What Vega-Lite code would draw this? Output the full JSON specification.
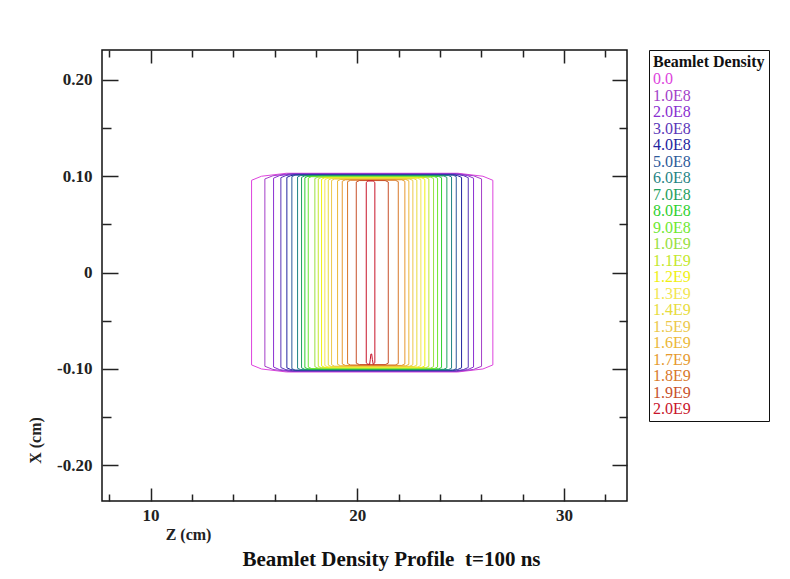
{
"$schema":"https://vega.github.io/schema/vega-lite/v6.json",
"width":525,"height":451,
"autosize":"none",
"padding":{"left":102,"top":50,"right":163,"bottom":78},
"background":"white",
"config":{"view":{"stroke":"#111","strokeWidth":1.5},"font":"Liberation Serif"},
"title":{"text":"Beamlet Density Profile\u00a0 t=100 ns","orient":"bottom","font":"Liberation Serif","fontSize":21,"fontWeight":"bold","color":"#111","dx":27,"offset":7},
"datasets":{"c":[
{"l":"0.0","o":1,"z":14.886,"x":-0.0958},{"l":"0.0","o":2,"z":14.886,"x":0.0958},{"l":"0.0","o":3,"z":15.366,"x":0.1},{"l":"0.0","o":4,"z":16.576,"x":0.1031},{"l":"0.0","o":5,"z":24.87,"x":0.1031},{"l":"0.0","o":6,"z":26.08,"x":0.1},{"l":"0.0","o":7,"z":26.56,"x":0.0958},{"l":"0.0","o":8,"z":26.56,"x":-0.0958},{"l":"0.0","o":9,"z":26.08,"x":-0.1},{"l":"0.0","o":10,"z":24.87,"x":-0.1031},{"l":"0.0","o":11,"z":16.576,"x":-0.1031},{"l":"0.0","o":12,"z":15.366,"x":-0.1},{"l":"0.0","o":13,"z":14.886,"x":-0.0958},
{"l":"1.0E8","o":1,"z":15.53,"x":-0.0972},{"l":"1.0E8","o":2,"z":15.53,"x":0.0972},{"l":"1.0E8","o":3,"z":15.92,"x":0.1005},{"l":"1.0E8","o":4,"z":16.74,"x":0.1027},{"l":"1.0E8","o":5,"z":24.803,"x":0.1027},{"l":"1.0E8","o":6,"z":25.623,"x":0.1005},{"l":"1.0E8","o":7,"z":26.013,"x":0.0972},{"l":"1.0E8","o":8,"z":26.013,"x":-0.0972},{"l":"1.0E8","o":9,"z":25.623,"x":-0.1005},{"l":"1.0E8","o":10,"z":24.803,"x":-0.1027},{"l":"1.0E8","o":11,"z":16.74,"x":-0.1027},{"l":"1.0E8","o":12,"z":15.92,"x":-0.1005},{"l":"1.0E8","o":13,"z":15.53,"x":-0.0972},
{"l":"2.0E8","o":1,"z":15.951,"x":-0.098},{"l":"2.0E8","o":2,"z":15.951,"x":0.098},{"l":"2.0E8","o":3,"z":16.241,"x":0.1007},{"l":"2.0E8","o":4,"z":16.821,"x":0.1023},{"l":"2.0E8","o":5,"z":24.756,"x":0.1023},{"l":"2.0E8","o":6,"z":25.336,"x":0.1007},{"l":"2.0E8","o":7,"z":25.626,"x":0.098},{"l":"2.0E8","o":8,"z":25.626,"x":-0.098},{"l":"2.0E8","o":9,"z":25.336,"x":-0.1007},{"l":"2.0E8","o":10,"z":24.756,"x":-0.1023},{"l":"2.0E8","o":11,"z":16.821,"x":-0.1023},{"l":"2.0E8","o":12,"z":16.241,"x":-0.1007},{"l":"2.0E8","o":13,"z":15.951,"x":-0.098},
{"l":"3.0E8","o":1,"z":16.304,"x":-0.0985},{"l":"3.0E8","o":2,"z":16.304,"x":0.0985},{"l":"3.0E8","o":3,"z":16.544,"x":0.1007},{"l":"3.0E8","o":4,"z":16.884,"x":0.1019},{"l":"3.0E8","o":5,"z":24.79,"x":0.1019},{"l":"3.0E8","o":6,"z":25.13,"x":0.1007},{"l":"3.0E8","o":7,"z":25.37,"x":0.0985},{"l":"3.0E8","o":8,"z":25.37,"x":-0.0985},{"l":"3.0E8","o":9,"z":25.13,"x":-0.1007},{"l":"3.0E8","o":10,"z":24.79,"x":-0.1019},{"l":"3.0E8","o":11,"z":16.884,"x":-0.1019},{"l":"3.0E8","o":12,"z":16.544,"x":-0.1007},{"l":"3.0E8","o":13,"z":16.304,"x":-0.0985},
{"l":"4.0E8","o":1,"z":16.594,"x":-0.0988},{"l":"4.0E8","o":2,"z":16.594,"x":0.0988},{"l":"4.0E8","o":3,"z":16.784,"x":0.1006},{"l":"4.0E8","o":4,"z":17.034,"x":0.1015},{"l":"4.0E8","o":5,"z":24.606,"x":0.1015},{"l":"4.0E8","o":6,"z":24.856,"x":0.1006},{"l":"4.0E8","o":7,"z":25.046,"x":0.0988},{"l":"4.0E8","o":8,"z":25.046,"x":-0.0988},{"l":"4.0E8","o":9,"z":24.856,"x":-0.1006},{"l":"4.0E8","o":10,"z":24.606,"x":-0.1015},{"l":"4.0E8","o":11,"z":17.034,"x":-0.1015},{"l":"4.0E8","o":12,"z":16.784,"x":-0.1006},{"l":"4.0E8","o":13,"z":16.594,"x":-0.0988},
{"l":"5.0E8","o":1,"z":16.836,"x":-0.0996},{"l":"5.0E8","o":2,"z":16.836,"x":0.0996},{"l":"5.0E8","o":3,"z":16.986,"x":0.1011},{"l":"5.0E8","o":4,"z":24.639,"x":0.1011},{"l":"5.0E8","o":5,"z":24.789,"x":0.0996},{"l":"5.0E8","o":6,"z":24.789,"x":-0.0996},{"l":"5.0E8","o":7,"z":24.639,"x":-0.1011},{"l":"5.0E8","o":8,"z":16.986,"x":-0.1011},{"l":"5.0E8","o":9,"z":16.836,"x":-0.0996},
{"l":"6.0E8","o":1,"z":17.112,"x":-0.0992},{"l":"6.0E8","o":2,"z":17.112,"x":0.0992},{"l":"6.0E8","o":3,"z":17.262,"x":0.1007},{"l":"6.0E8","o":4,"z":24.412,"x":0.1007},{"l":"6.0E8","o":5,"z":24.562,"x":0.0992},{"l":"6.0E8","o":6,"z":24.562,"x":-0.0992},{"l":"6.0E8","o":7,"z":24.412,"x":-0.1007},{"l":"6.0E8","o":8,"z":17.262,"x":-0.1007},{"l":"6.0E8","o":9,"z":17.112,"x":-0.0992},
{"l":"7.0E8","o":1,"z":17.305,"x":-0.0988},{"l":"7.0E8","o":2,"z":17.305,"x":0.0988},{"l":"7.0E8","o":3,"z":17.455,"x":0.1003},{"l":"7.0E8","o":4,"z":24.185,"x":0.1003},{"l":"7.0E8","o":5,"z":24.335,"x":0.0988},{"l":"7.0E8","o":6,"z":24.335,"x":-0.0988},{"l":"7.0E8","o":7,"z":24.185,"x":-0.1003},{"l":"7.0E8","o":8,"z":17.455,"x":-0.1003},{"l":"7.0E8","o":9,"z":17.305,"x":-0.0988},
{"l":"8.0E8","o":1,"z":17.465,"x":-0.0984},{"l":"8.0E8","o":2,"z":17.465,"x":0.0984},{"l":"8.0E8","o":3,"z":17.615,"x":0.0999},{"l":"8.0E8","o":4,"z":23.928,"x":0.0999},{"l":"8.0E8","o":5,"z":24.078,"x":0.0984},{"l":"8.0E8","o":6,"z":24.078,"x":-0.0984},{"l":"8.0E8","o":7,"z":23.928,"x":-0.0999},{"l":"8.0E8","o":8,"z":17.615,"x":-0.0999},{"l":"8.0E8","o":9,"z":17.465,"x":-0.0984},
{"l":"9.0E8","o":1,"z":17.629,"x":-0.098},{"l":"9.0E8","o":2,"z":17.629,"x":0.098},{"l":"9.0E8","o":3,"z":17.779,"x":0.0995},{"l":"9.0E8","o":4,"z":23.735,"x":0.0995},{"l":"9.0E8","o":5,"z":23.885,"x":0.098},{"l":"9.0E8","o":6,"z":23.885,"x":-0.098},{"l":"9.0E8","o":7,"z":23.735,"x":-0.0995},{"l":"9.0E8","o":8,"z":17.779,"x":-0.0995},{"l":"9.0E8","o":9,"z":17.629,"x":-0.098},
{"l":"1.0E9","o":1,"z":17.949,"x":-0.0976},{"l":"1.0E9","o":2,"z":17.949,"x":0.0976},{"l":"1.0E9","o":3,"z":18.099,"x":0.0991},{"l":"1.0E9","o":4,"z":23.541,"x":0.0991},{"l":"1.0E9","o":5,"z":23.691,"x":0.0976},{"l":"1.0E9","o":6,"z":23.691,"x":-0.0976},{"l":"1.0E9","o":7,"z":23.541,"x":-0.0991},{"l":"1.0E9","o":8,"z":18.099,"x":-0.0991},{"l":"1.0E9","o":9,"z":17.949,"x":-0.0976},
{"l":"1.1E9","o":1,"z":18.113,"x":-0.0972},{"l":"1.1E9","o":2,"z":18.113,"x":0.0972},{"l":"1.1E9","o":3,"z":18.263,"x":0.0987},{"l":"1.1E9","o":4,"z":23.314,"x":0.0987},{"l":"1.1E9","o":5,"z":23.464,"x":0.0972},{"l":"1.1E9","o":6,"z":23.464,"x":-0.0972},{"l":"1.1E9","o":7,"z":23.314,"x":-0.0987},{"l":"1.1E9","o":8,"z":18.263,"x":-0.0987},{"l":"1.1E9","o":9,"z":18.113,"x":-0.0972},
{"l":"1.2E9","o":1,"z":18.273,"x":-0.0968},{"l":"1.2E9","o":2,"z":18.273,"x":0.0968},{"l":"1.2E9","o":3,"z":18.423,"x":0.0983},{"l":"1.2E9","o":4,"z":23.12,"x":0.0983},{"l":"1.2E9","o":5,"z":23.27,"x":0.0968},{"l":"1.2E9","o":6,"z":23.27,"x":-0.0968},{"l":"1.2E9","o":7,"z":23.12,"x":-0.0983},{"l":"1.2E9","o":8,"z":18.423,"x":-0.0983},{"l":"1.2E9","o":9,"z":18.273,"x":-0.0968},
{"l":"1.3E9","o":1,"z":18.432,"x":-0.0964},{"l":"1.3E9","o":2,"z":18.432,"x":0.0964},{"l":"1.3E9","o":3,"z":18.582,"x":0.0979},{"l":"1.3E9","o":4,"z":22.927,"x":0.0979},{"l":"1.3E9","o":5,"z":23.077,"x":0.0964},{"l":"1.3E9","o":6,"z":23.077,"x":-0.0964},{"l":"1.3E9","o":7,"z":22.927,"x":-0.0979},{"l":"1.3E9","o":8,"z":18.582,"x":-0.0979},{"l":"1.3E9","o":9,"z":18.432,"x":-0.0964},
{"l":"1.4E9","o":1,"z":18.597,"x":-0.096},{"l":"1.4E9","o":2,"z":18.597,"x":0.096},{"l":"1.4E9","o":3,"z":18.747,"x":0.0975},{"l":"1.4E9","o":4,"z":22.733,"x":0.0975},{"l":"1.4E9","o":5,"z":22.883,"x":0.096},{"l":"1.4E9","o":6,"z":22.883,"x":-0.096},{"l":"1.4E9","o":7,"z":22.733,"x":-0.0975},{"l":"1.4E9","o":8,"z":18.747,"x":-0.0975},{"l":"1.4E9","o":9,"z":18.597,"x":-0.096},
{"l":"1.5E9","o":1,"z":18.757,"x":-0.0956},{"l":"1.5E9","o":2,"z":18.757,"x":0.0956},{"l":"1.5E9","o":3,"z":18.907,"x":0.0971},{"l":"1.5E9","o":4,"z":22.54,"x":0.0971},{"l":"1.5E9","o":5,"z":22.69,"x":0.0956},{"l":"1.5E9","o":6,"z":22.69,"x":-0.0956},{"l":"1.5E9","o":7,"z":22.54,"x":-0.0971},{"l":"1.5E9","o":8,"z":18.907,"x":-0.0971},{"l":"1.5E9","o":9,"z":18.757,"x":-0.0956},
{"l":"1.6E9","o":1,"z":19.047,"x":-0.0952},{"l":"1.6E9","o":2,"z":19.047,"x":0.0952},{"l":"1.6E9","o":3,"z":19.197,"x":0.0967},{"l":"1.6E9","o":4,"z":22.346,"x":0.0967},{"l":"1.6E9","o":5,"z":22.496,"x":0.0952},{"l":"1.6E9","o":6,"z":22.496,"x":-0.0952},{"l":"1.6E9","o":7,"z":22.346,"x":-0.0967},{"l":"1.6E9","o":8,"z":19.197,"x":-0.0967},{"l":"1.6E9","o":9,"z":19.047,"x":-0.0952},
{"l":"1.7E9","o":1,"z":19.274,"x":-0.0948},{"l":"1.7E9","o":2,"z":19.274,"x":0.0948},{"l":"1.7E9","o":3,"z":19.424,"x":0.0963},{"l":"1.7E9","o":4,"z":22.153,"x":0.0963},{"l":"1.7E9","o":5,"z":22.303,"x":0.0948},{"l":"1.7E9","o":6,"z":22.303,"x":-0.0948},{"l":"1.7E9","o":7,"z":22.153,"x":-0.0963},{"l":"1.7E9","o":8,"z":19.424,"x":-0.0963},{"l":"1.7E9","o":9,"z":19.274,"x":-0.0948},
{"l":"1.8E9","o":1,"z":19.531,"x":-0.0944},{"l":"1.8E9","o":2,"z":19.531,"x":0.0944},{"l":"1.8E9","o":3,"z":19.681,"x":0.0959},{"l":"1.8E9","o":4,"z":21.834,"x":0.0959},{"l":"1.8E9","o":5,"z":21.984,"x":0.0944},{"l":"1.8E9","o":6,"z":21.984,"x":-0.0944},{"l":"1.8E9","o":7,"z":21.834,"x":-0.0959},{"l":"1.8E9","o":8,"z":19.681,"x":-0.0959},{"l":"1.8E9","o":9,"z":19.531,"x":-0.0944},
{"l":"1.9E9","o":1,"z":19.952,"x":-0.094},{"l":"1.9E9","o":2,"z":19.952,"x":0.094},{"l":"1.9E9","o":3,"z":20.102,"x":0.0955},{"l":"1.9E9","o":4,"z":21.35,"x":0.0955},{"l":"1.9E9","o":5,"z":21.5,"x":0.094},{"l":"1.9E9","o":6,"z":21.5,"x":-0.094},{"l":"1.9E9","o":7,"z":21.35,"x":-0.0955},{"l":"1.9E9","o":8,"z":20.102,"x":-0.0955},{"l":"1.9E9","o":9,"z":19.952,"x":-0.094},
{"l":"2.0E9","o":1,"z":20.435,"x":-0.0936},{"l":"2.0E9","o":2,"z":20.435,"x":0.0936},{"l":"2.0E9","o":3,"z":20.515,"x":0.0951},{"l":"2.0E9","o":4,"z":20.771,"x":0.0951},{"l":"2.0E9","o":5,"z":20.851,"x":0.0936},{"l":"2.0E9","o":6,"z":20.851,"x":-0.0936},{"l":"2.0E9","o":7,"z":20.771,"x":-0.0951},{"l":"2.0E9","o":8,"z":20.73,"x":-0.09},{"l":"2.0E9","o":9,"z":20.7,"x":-0.0845},{"l":"2.0E9","o":10,"z":20.66,"x":-0.0845},{"l":"2.0E9","o":11,"z":20.63,"x":-0.09},{"l":"2.0E9","o":12,"z":20.6,"x":-0.0951},{"l":"2.0E9","o":13,"z":20.515,"x":-0.0951},{"l":"2.0E9","o":14,"z":20.435,"x":-0.0936}
],"p":[{"z":20,"x":0}]},
"layer":[
{"data":{"name":"c"},
"mark":{"type":"line","strokeWidth":1,"clip":true},
"encoding":{
"x":{"field":"z","type":"quantitative","scale":{"domain":[7.65,33.05],"nice":false,"zero":false},
 "axis":{"orient":"bottom","values":[10,20,30],"tickSize":-13,"tickWidth":1.5,"tickColor":"#222","domain":false,"grid":false,"labelPadding":19,"labelFont":"Liberation Serif","labelFontSize":17,"labelFontWeight":"bold","labelColor":"#222","title":"Z (cm)","titleFont":"Liberation Serif","titleFontSize":16,"titleFontWeight":"bold","titleColor":"#222","titleX":86,"titleY":33,"titleAlign":"center","titleBaseline":"middle"}},
"y":{"field":"x","type":"quantitative","scale":{"domain":[-0.237,0.231],"nice":false,"zero":false},
 "axis":{"orient":"left","values":[-0.2,-0.1,0,0.1,0.2],"labelExpr":"datum.value == 0 ? '0' : (datum.value < 0 ? '-' : '') + format(abs(datum.value), '.2f')","tickSize":-16,"tickWidth":1.5,"tickColor":"#222","domain":false,"grid":false,"labelPadding":26,"labelFont":"Liberation Serif","labelFontSize":17,"labelFontWeight":"bold","labelColor":"#222","title":"X (cm)","titleFont":"Liberation Serif","titleFontSize":16,"titleFontWeight":"bold","titleColor":"#222","titleX":-67,"titleY":390,"titleAngle":-90,"titleAlign":"center","titleBaseline":"middle"}},
"color":{"field":"l","type":"nominal",
 "scale":{"domain":["0.0","1.0E8","2.0E8","3.0E8","4.0E8","5.0E8","6.0E8","7.0E8","8.0E8","9.0E8","1.0E9","1.1E9","1.2E9","1.3E9","1.4E9","1.5E9","1.6E9","1.7E9","1.8E9","1.9E9","2.0E9"],
  "range":["#dd44dd","#a33fc8","#8a2fd0","#5a36b8","#22249e","#2e5a9a","#1f8484","#1fa060","#2fd02f","#6ee830","#98e040","#c4e82c","#f0f010","#f2e650","#e8dc3c","#ecc84a","#ecb838","#e69a2e","#d8782a","#c8502a","#c8142a"]},
 "legend":{"title":"Beamlet Density","orient":"right","offset":21,"padding":4,"strokeColor":"#111","fillColor":"white","titleFont":"Liberation Serif","titleFontSize":16,"titleFontWeight":"bold","titleColor":"#111","titlePadding":1,"labelFont":"Liberation Serif","labelFontSize":16,"labelOffset":-16,"symbolSize":0,"symbolStrokeWidth":0,"symbolOpacity":0,"rowPadding":0.5,"labelLimit":200,
  "encode":{"labels":{"update":{"fill":{"scale":"color","field":"value"}}}}}},
"order":{"field":"o","type":"quantitative"}}},
{"data":{"name":"p"},"mark":{"type":"point","opacity":0},
"encoding":{
"x":{"field":"z","type":"quantitative","axis":{"orient":"top","values":[10,20,30],"tickSize":-13,"tickWidth":1.5,"tickColor":"#222","domain":false,"grid":false,"labels":false,"title":null}},
"y":{"field":"x","type":"quantitative","axis":{"orient":"right","values":[-0.2,-0.1,0,0.1,0.2],"tickSize":-15,"tickWidth":1.5,"tickColor":"#222","domain":false,"grid":false,"labels":false,"title":null}}}},
{"data":{"name":"p"},"mark":{"type":"point","opacity":0},
"encoding":{
"x":{"field":"z","type":"quantitative","axis":{"orient":"bottom","values":[8,12,14,16,18,22,24,26,28,32],"tickSize":-7,"tickWidth":1.5,"tickColor":"#222","domain":false,"grid":false,"labels":false,"title":null}},
"y":{"field":"x","type":"quantitative","axis":{"orient":"left","values":[-0.15,-0.05,0.05,0.15],"tickSize":-9,"tickWidth":1.5,"tickColor":"#222","domain":false,"grid":false,"labels":false,"title":null}}}},
{"data":{"name":"p"},"mark":{"type":"point","opacity":0},
"encoding":{
"x":{"field":"z","type":"quantitative","axis":{"orient":"top","values":[8,12,14,16,18,22,24,26,28,32],"tickSize":-7,"tickWidth":1.5,"tickColor":"#222","domain":false,"grid":false,"labels":false,"title":null}},
"y":{"field":"x","type":"quantitative","axis":{"orient":"right","values":[-0.15,-0.05,0.05,0.15],"tickSize":-8,"tickWidth":1.5,"tickColor":"#222","domain":false,"grid":false,"labels":false,"title":null}}}}
],
"resolve":{"axis":{"x":"independent","y":"independent"}}
}
